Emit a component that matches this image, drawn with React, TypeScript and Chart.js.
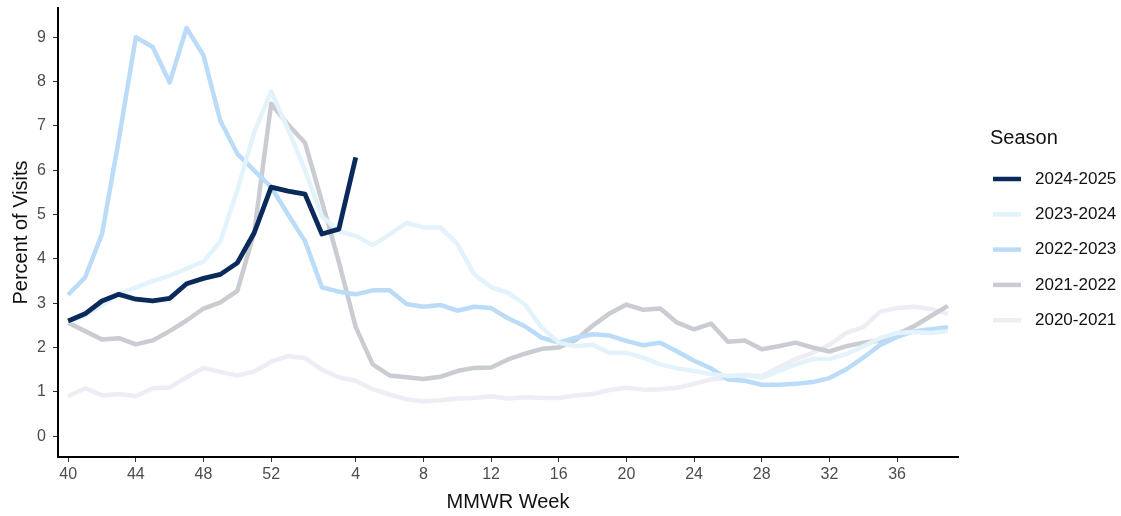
import { useEffect, useRef } from 'react';
import { Chart, registerables } from 'chart.js';

Chart.register(...registerables);

const FONT = '"Liberation Sans", Arial, sans-serif';

const weeks = [
  40, 41, 42, 43, 44, 45, 46, 47, 48, 49, 50, 51, 52, 53,
  1, 2, 3, 4, 5, 6, 7, 8, 9, 10, 11, 12, 13, 14, 15, 16, 17, 18, 19, 20,
  21, 22, 23, 24, 25, 26, 27, 28, 29, 30, 31, 32, 33, 34, 35, 36, 37, 38, 39,
];
const tickWeeks = [40, 44, 48, 52, 4, 8, 12, 16, 20, 24, 28, 32, 36];
const yTicks = [0, 1, 2, 3, 4, 5, 6, 7, 8, 9];

const seasons = ['2024-2025', '2023-2024', '2022-2023', '2021-2022', '2020-2021'];
const seasonColors = ['#0b2a5c', '#e2f3fb', '#badcf8', '#c9ccd0', '#eeedf5'];

const s2024 = [
  2.60, 2.76, 3.05, 3.20, 3.09, 3.05, 3.11, 3.44, 3.56, 3.65, 3.91, 4.59, 5.62, 5.53,
  5.46, 4.56, 4.67, 6.29,
];
const s2023 = [
  2.58, 2.72, 2.95, 3.22, 3.35, 3.50, 3.62, 3.78, 3.94, 4.40, 5.55, 6.86, 7.78, 6.92,
  6.00, 4.96, 4.62, 4.52, 4.31, 4.55, 4.81, 4.71, 4.71, 4.34, 3.65, 3.36, 3.24, 2.97,
  2.45, 2.11, 2.03, 2.06, 1.88, 1.88, 1.77, 1.62, 1.53, 1.47, 1.40, 1.36, 1.38, 1.32,
  1.47, 1.62, 1.74, 1.74, 1.85, 2.03, 2.21, 2.33, 2.35, 2.33, 2.37,
];
const s2022 = [
  3.19, 3.58, 4.56, 6.70, 9.00, 8.78, 7.98, 9.21, 8.59, 7.11, 6.37, 5.99, 5.62, 5.00,
  4.40, 3.36, 3.26, 3.20, 3.29, 3.29, 2.98, 2.92, 2.96, 2.83, 2.92, 2.89, 2.66, 2.48,
  2.22, 2.11, 2.22, 2.30, 2.27, 2.15, 2.05, 2.11, 1.91, 1.70, 1.53, 1.28, 1.25, 1.16,
  1.16, 1.18, 1.22, 1.31, 1.51, 1.77, 2.06, 2.24, 2.37, 2.41, 2.46,
];
const s2021 = [
  2.56, 2.37, 2.18, 2.21, 2.07, 2.16, 2.37, 2.61, 2.88, 3.02, 3.28, 4.60, 7.50, 7.03,
  6.62, 5.30, 3.93, 2.46, 1.62, 1.37, 1.33, 1.29, 1.34, 1.47, 1.54, 1.55, 1.73, 1.86,
  1.97, 2.00, 2.17, 2.49, 2.77, 2.97, 2.85, 2.88, 2.56, 2.41, 2.54, 2.13, 2.16, 1.96,
  2.03, 2.11, 2.00, 1.91, 2.03, 2.11, 2.16, 2.30, 2.48, 2.71, 2.94,
];
const s2020 = [
  0.90, 1.08, 0.92, 0.95, 0.90, 1.08, 1.10, 1.33, 1.54, 1.45, 1.37, 1.46, 1.68, 1.81,
  1.76, 1.50, 1.33, 1.25, 1.06, 0.94, 0.83, 0.79, 0.81, 0.85, 0.86, 0.90, 0.85, 0.88,
  0.86, 0.86, 0.92, 0.95, 1.04, 1.09, 1.05, 1.06, 1.09, 1.18, 1.28, 1.31, 1.37, 1.35,
  1.55, 1.74, 1.88, 2.06, 2.33, 2.46, 2.81, 2.89, 2.92, 2.87, 2.76,
];
const seriesValues = [s2024, s2023, s2022, s2021, s2020];

const legendPlugin = {
  id: 'seasonLegend',
  afterDraw(chart: any) {
    const ctx = chart.ctx;
    const area = chart.chartArea;
    const x0 = area.right + 32;
    const cy = (area.top + area.bottom) / 2;
    ctx.save();
    ctx.textBaseline = 'middle';
    ctx.textAlign = 'left';
    ctx.fillStyle = '#111';
    ctx.font = `20px ${FONT}`;
    ctx.fillText('Season', x0, cy - 94.5);
    chart.data.datasets.forEach((ds: any, i: number) => {
      const y = cy - 53.5 + i * 35.3;
      ctx.strokeStyle = ds.borderColor;
      ctx.lineWidth = 4.5;
      ctx.lineCap = 'butt';
      ctx.beginPath();
      ctx.moveTo(x0 + 3, y);
      ctx.lineTo(x0 + 31, y);
      ctx.stroke();
      ctx.fillStyle = '#111';
      ctx.font = `17px ${FONT}`;
      ctx.fillText(ds.label, x0 + 45, y);
    });
    ctx.restore();
  },
};

export default function App() {
  const canvasRef = useRef<HTMLCanvasElement | null>(null);

  useEffect(() => {
    if (!canvasRef.current) return;
    const tickIdx = tickWeeks.map((w) => weeks.indexOf(w));
    const datasets = seasons.map((label, si) => ({
      label,
      data: seriesValues[si].map((v, i) => ({ x: i, y: v })),
      borderColor: seasonColors[si],
      backgroundColor: seasonColors[si],
      borderWidth: si === 0 ? 4.8 : 4.5,
      pointRadius: 0,
      pointHoverRadius: 0,
      tension: 0,
      borderJoinStyle: 'round' as const,
      borderCapStyle: 'butt' as const,
      fill: false,
    }));

    const chart = new Chart(canvasRef.current, {
      type: 'line',
      data: { datasets },
      plugins: [legendPlugin],
      options: {
        animation: false,
        responsive: true,
        maintainAspectRatio: false,
        parsing: false,
        layout: { padding: { left: 0, right: 163, top: 8, bottom: 0 } },
        plugins: {
          legend: { display: false },
          tooltip: { enabled: false },
        },
        scales: {
          x: {
            type: 'linear',
            min: -0.6,
            max: 52.6,
            afterBuildTicks: (s: any) => {
              s.ticks = tickIdx.map((v) => ({ value: v }));
            },
            afterFit: (s: any) => {
              s.height = 59;
              s.paddingLeft = 0;
              s.paddingRight = 0;
            },
            grid: {
              drawOnChartArea: false,
              drawTicks: true,
              tickLength: 5,
              color: '#333',
              lineWidth: 1,
            },
            border: { display: true, color: '#000', width: 2 },
            ticks: {
              autoSkip: false,
              maxRotation: 0,
              padding: 3,
              color: '#4d4d4d',
              font: { family: FONT, size: 16 },
              callback: (v: any) => String(weeks[Number(v)]),
            },
            title: {
              display: true,
              text: 'MMWR Week',
              color: '#111',
              font: { family: FONT, size: 20 },
              padding: { top: 0, bottom: 2 },
            },
          },
          y: {
            type: 'linear',
            min: -0.47,
            max: 9.66,
            afterBuildTicks: (s: any) => {
              s.ticks = yTicks.map((v) => ({ value: v }));
            },
            afterFit: (s: any) => {
              s.width = 58;
              s.paddingTop = 0;
              s.paddingBottom = 0;
            },
            grid: {
              drawOnChartArea: false,
              drawTicks: true,
              tickLength: 5,
              color: '#333',
              lineWidth: 1,
            },
            border: { display: true, color: '#000', width: 2 },
            ticks: {
              padding: 7,
              color: '#4d4d4d',
              font: { family: FONT, size: 16 },
              callback: (v: any) => String(v),
            },
            title: {
              display: true,
              text: 'Percent of Visits',
              color: '#111',
              font: { family: FONT, size: 20 },
              padding: { top: 9, bottom: 0 },
            },
          },
        },
      },
    });
    return () => chart.destroy();
  }, []);

  return (
    <div style={{ position: 'fixed', left: 0, top: 0, width: 1121, height: 516, background: '#fff' }}>
      <canvas ref={canvasRef} />
    </div>
  );
}
